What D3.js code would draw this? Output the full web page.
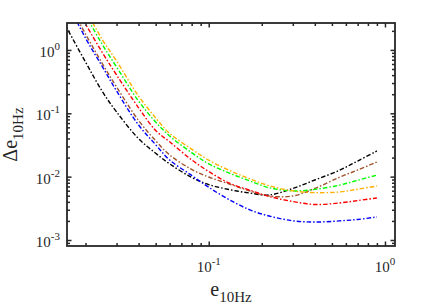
<!DOCTYPE html>
<html>
<head>
<meta charset="utf-8">
<script src="https://cdn.jsdelivr.net/npm/d3@7"></script>
<style>
  body { margin: 0; background: #fff; }
  text { font-family: "Liberation Serif", "Times New Roman", serif; fill: #262626; }
</style>
</head>
<body>
<svg id="chart" width="436" height="308"></svg>
<script>
// e_10Hz sample points (shared by all curves)
const eVals = [0.015, 0.02, 0.025, 0.03, 0.04, 0.05, 0.06, 0.08, 0.1, 0.13, 0.17, 0.22, 0.3, 0.4, 0.55, 0.7, 0.9];

// Delta e_10Hz, one array per curve
const blackVals  = [2.76, 0.644, 0.217, 0.105, 0.0397, 0.0234, 0.0159, 0.00973, 0.00749, 0.00627, 0.00552, 0.00513, 0.0065, 0.00885, 0.01254, 0.01765, 0.0254];
const blueVals   = [7.35, 1.54, 0.537, 0.225, 0.0653, 0.0319, 0.0183, 0.01046, 0.00679, 0.00437, 0.00301, 0.00239, 0.00201, 0.00192, 0.0020, 0.00211, 0.00231];
const brownVals  = [8.2, 1.78, 0.599, 0.26, 0.0769, 0.0369, 0.022, 0.013, 0.00987, 0.00771, 0.00598, 0.00495, 0.00495, 0.00652, 0.00973, 0.01273, 0.017];
const redVals    = [10.6, 2.56, 0.894, 0.402, 0.122, 0.0535, 0.0355, 0.0184, 0.01206, 0.00794, 0.00615, 0.00488, 0.00405, 0.00363, 0.00384, 0.00419, 0.0046];
const greenVals  = [14.7, 3.55, 1.195, 0.537, 0.156, 0.0728, 0.0439, 0.0239, 0.0159, 0.01146, 0.0086, 0.0067, 0.00595, 0.00629, 0.00733, 0.00876, 0.0106];
const orangeVals = [18.2, 4.26, 1.433, 0.668, 0.187, 0.0845, 0.0481, 0.0272, 0.0182, 0.01264, 0.0093, 0.0072, 0.00595, 0.0056, 0.00572, 0.00633, 0.00712];

const series = [
  { color: '#000000', vals: blackVals },
  { color: '#0000ff', vals: blueVals },
  { color: '#a0522d', vals: brownVals },
  { color: '#ff0000', vals: redVals },
  { color: '#00ff00', vals: greenVals },
  { color: '#ffb000', vals: orangeVals }
];

const xMajor = [0.1, 1];
const yMajor = [0.001, 0.01, 0.1, 1];

const svg = d3.select('#chart');
const mLeft = 67, mRight = 395, mTop = 23, mBottom = 246;

const x = d3.scaleLog().domain([0.0157, 1.14]).range([mLeft, mRight]);
const y = d3.scaleLog().domain([0.000804, 2.66]).range([mBottom, mTop]);

// minor ticks inside the domain
const xMinor = [];
const yMinor = [];
for (let p = -2; p <= 0; p++) {
  for (let m = 2; m <= 9; m++) {
    const v = m * Math.pow(10, p);
    if (v > x.domain()[0] && v < x.domain()[1]) xMinor.push(v);
  }
}
for (let p = -4; p <= 0; p++) {
  for (let m = 2; m <= 9; m++) {
    const v = m * Math.pow(10, p);
    if (v > y.domain()[0] && v < y.domain()[1]) yMinor.push(v);
  }
}

svg.append('clipPath').attr('id', 'clip')
  .append('rect')
  .attr('x', mLeft).attr('y', mTop)
  .attr('width', mRight - mLeft).attr('height', mBottom - mTop);

// curves
const line = d3.line()
  .x((d, i) => x(eVals[i]))
  .y(d => y(d))
  .curve(d3.curveCatmullRom);

svg.append('g').attr('clip-path', 'url(#clip)')
  .selectAll('path')
  .data(series)
  .enter()
  .append('path')
  .attr('d', d => line(d.vals))
  .attr('fill', 'none')
  .attr('stroke', d => d.color)
  .attr('stroke-width', 1.4)
  .attr('stroke-dasharray', '4.5,2,1.5,2');

// ticks on all four sides, pointing inward
function ticks(axisFn, scale, vals, size, transform) {
  const g = svg.append('g')
    .attr('transform', transform)
    .call(axisFn(scale).tickValues(vals).tickSize(size).tickFormat(''));
  g.select('.domain').remove();
  g.selectAll('line').attr('stroke', '#262626').attr('stroke-width', 1.5);
}
ticks(d3.axisBottom, x, xMinor, -3, `translate(0,${mBottom})`);
ticks(d3.axisBottom, x, xMajor, -4.5, `translate(0,${mBottom})`);
ticks(d3.axisTop, x, xMinor, -3, `translate(0,${mTop})`);
ticks(d3.axisTop, x, xMajor, -4.5, `translate(0,${mTop})`);
ticks(d3.axisLeft, y, yMinor, -3, `translate(${mLeft},0)`);
ticks(d3.axisLeft, y, yMajor, -4.5, `translate(${mLeft},0)`);
ticks(d3.axisRight, y, yMinor, -3, `translate(${mRight},0)`);
ticks(d3.axisRight, y, yMajor, -4.5, `translate(${mRight},0)`);

// box
svg.append('rect')
  .attr('x', mLeft).attr('y', mTop)
  .attr('width', mRight - mLeft).attr('height', mBottom - mTop)
  .attr('fill', 'none')
  .attr('stroke', '#262626')
  .attr('stroke-width', 1.8);

// tick labels
xMajor.forEach(v => {
  const t = svg.append('text')
    .attr('x', x(v)).attr('y', 272)
    .attr('text-anchor', 'middle')
    .attr('font-size', 15);
  t.append('tspan').text('10');
  t.append('tspan').attr('dy', -7).attr('font-size', 11).text(Math.round(Math.log10(v)));
});
yMajor.forEach(v => {
  const t = svg.append('text')
    .attr('x', 60).attr('y', y(v) + 7)
    .attr('text-anchor', 'end')
    .attr('font-size', 15);
  t.append('tspan').text('10');
  t.append('tspan').attr('dy', -7).attr('font-size', 11).text(Math.round(Math.log10(v)));
});

// axis titles
const xt = svg.append('text')
  .attr('x', (mLeft + mRight) / 2).attr('y', 296)
  .attr('text-anchor', 'middle')
  .attr('font-size', 20);
xt.append('tspan').text('e');
xt.append('tspan').attr('dy', 6).attr('font-size', 15).text('10Hz');

const yt = svg.append('text')
  .attr('transform', `translate(17,${(mTop + mBottom) / 2}) rotate(-90)`)
  .attr('text-anchor', 'middle')
  .attr('font-size', 20);
yt.append('tspan').text('\u0394e');
yt.append('tspan').attr('dy', 6).attr('font-size', 15).text('10Hz');
</script>
</body>
</html>
